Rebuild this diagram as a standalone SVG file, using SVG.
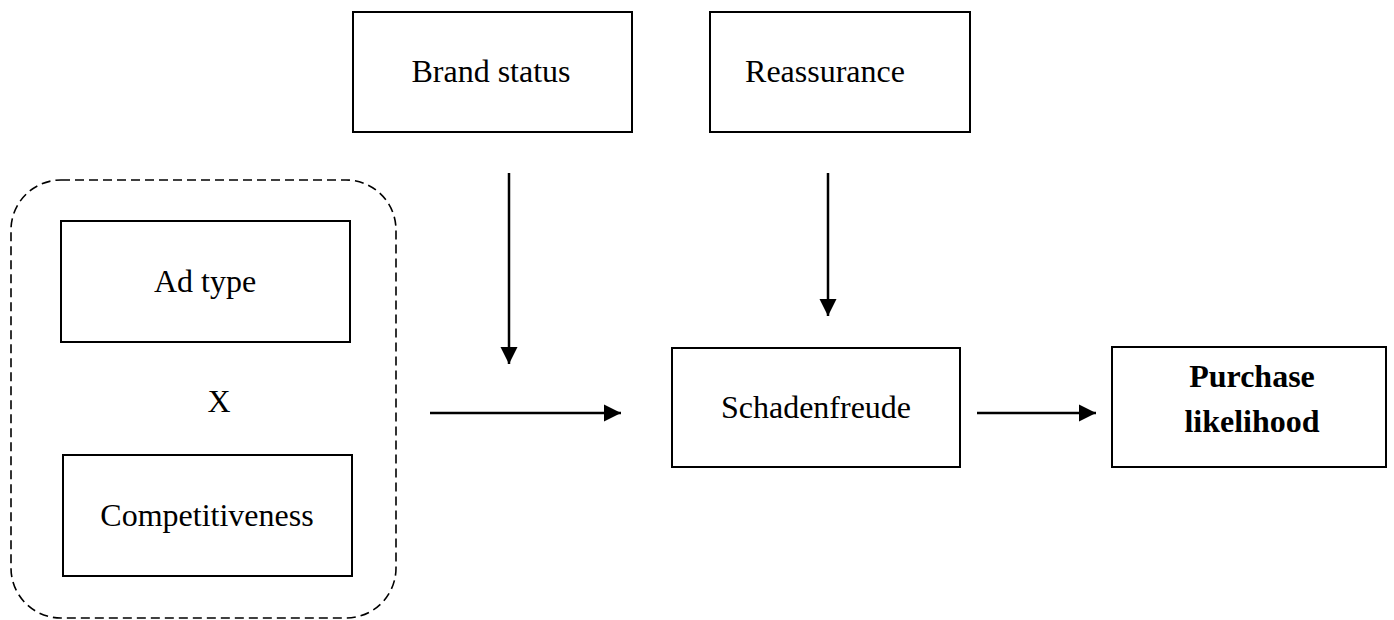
<svg xmlns="http://www.w3.org/2000/svg" width="1394" height="620" viewBox="0 0 1394 620">
<defs>
<style>
.box{fill:#fff;stroke:#000;stroke-width:2}
.t{font-family:"Liberation Serif","Times New Roman",serif;font-size:32px;fill:#000;text-anchor:middle}
.b{font-weight:bold}
.c{stroke:#000;stroke-width:2.5;fill:none}
</style>
<marker id="ah" viewBox="0 0 10 10" refX="10" refY="5" markerWidth="7" markerHeight="7" markerUnits="strokeWidth" orient="auto">
<path d="M0,0 L10,5 L0,10 Z" fill="#000"/>
</marker>
</defs>
<rect width="1394" height="620" fill="#fff"/>
<g id="group-interaction">
<rect x="11" y="180" width="385" height="438" rx="50" ry="50" fill="none" stroke="#000" stroke-width="1.6" stroke-dasharray="9,5"/>
<text class="t" x="219" y="412">X</text>
</g>
<g id="node-adtype">
<rect class="box" x="61" y="221" width="289" height="121"/>
<text class="t" x="205" y="292">Ad type</text>
</g>
<g id="node-competitiveness">
<rect class="box" x="63" y="455" width="289" height="121"/>
<text class="t" x="207" y="526">Competitiveness</text>
</g>
<g id="node-brandstatus">
<rect class="box" x="353" y="12" width="279" height="120"/>
<text class="t" x="491" y="82">Brand status</text>
</g>
<g id="node-reassurance">
<rect class="box" x="710" y="12" width="260" height="120"/>
<text class="t" x="825" y="82">Reassurance</text>
</g>
<g id="node-schadenfreude">
<rect class="box" x="672" y="348" width="288" height="119"/>
<text class="t" x="816" y="418">Schadenfreude</text>
</g>
<g id="node-purchase">
<rect class="box" x="1112" y="347" width="274" height="120"/>
<text class="t b" x="1252" y="387">Purchase</text>
<text class="t b" x="1252" y="432">likelihood</text>
</g>
<g id="connectors">
<line class="c" x1="509" y1="173" x2="509" y2="364" marker-end="url(#ah)"/>
<line class="c" x1="828" y1="173" x2="828" y2="316" marker-end="url(#ah)"/>
<line class="c" x1="430" y1="413" x2="621" y2="413" marker-end="url(#ah)"/>
<line class="c" x1="977" y1="413" x2="1096" y2="413" marker-end="url(#ah)"/>
</g>
</svg>
